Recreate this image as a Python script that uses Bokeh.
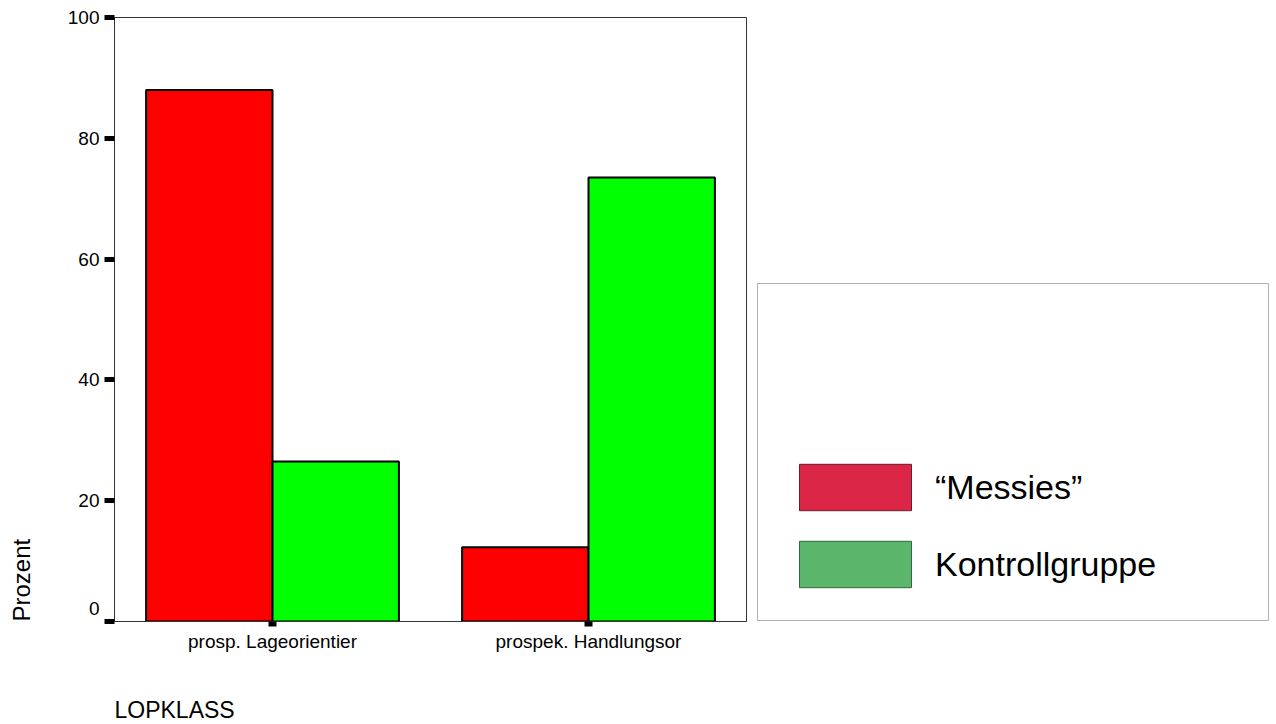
from bokeh.plotting import figure
from bokeh.layouts import row
from bokeh.models import (ColumnDataSource, FactorRange, Range1d, FixedTicker,
                          Legend, LegendItem, LinearAxis, Title)
from bokeh.transform import dodge
from bokeh.embed import file_html
from bokeh.resources import INLINE

# ---- data ----
categories = ["prosp. Lageorientier", "prospek. Handlungsor"]
series_names = ["\u201cMessies\u201d", "Kontrollgruppe"]
messies = [88.0, 12.3]
kontroll = [26.5, 73.5]
y_ticks = [0, 20, 40, 60, 80, 100]
y_tick_labels = ["0", "20", "40", "60", "80", "100"]
x_title = "LOPKLASS"
y_title = "Prozent"

FONT = "Liberation Sans"

src = ColumnDataSource(data=dict(cat=categories, messies=messies, kontroll=kontroll))

# ---------------- main chart ----------------
p = figure(width=747, height=724, output_backend="svg", toolbar_location=None,
           x_range=FactorRange(factors=categories, range_padding=0),
           y_range=Range1d(0, 100),
           min_border_left=114, min_border_right=1, min_border_top=17, min_border_bottom=103)

p.xgrid.visible = False
p.ygrid.visible = False
p.background_fill_color = "white"
p.border_fill_color = "white"
p.outline_line_color = "#333333"
p.outline_line_width = 1

p.vbar(x=dodge("cat", -0.2, range=p.x_range), top="messies", width=0.4, source=src,
       fill_color="#FF0000", line_color="black", line_width=2)
p.vbar(x=dodge("cat", 0.2, range=p.x_range), top="kontroll", width=0.4, source=src,
       fill_color="#00FF00", line_color="black", line_width=2)

# y axis: ticks only
ya = p.yaxis[0]
ya.ticker = FixedTicker(ticks=y_ticks)
ya.major_label_overrides = {t: "" for t in y_ticks}
ya.major_tick_out = 10
ya.major_tick_in = 0
ya.major_tick_line_width = 5
ya.major_tick_line_color = "black"
ya.minor_tick_line_color = None
ya.axis_line_color = "#333333"
ya.major_label_standoff = 0

# y axis labels (the "0" sits a little above its tick, as in the reference)
label_pos = [2.2] + y_ticks[1:]
yl = LinearAxis(ticker=FixedTicker(ticks=label_pos),
                major_label_overrides={pos: lab for pos, lab in zip(label_pos, y_tick_labels)},
                major_tick_out=0, major_tick_in=0, major_tick_line_color=None,
                minor_tick_line_color=None, axis_line_color=None,
                major_label_standoff=5, major_label_text_font=FONT,
                major_label_text_font_size="19px", major_label_text_color="black",
                axis_label=" ", axis_label_text_font_size="10px", axis_label_standoff=16)
p.add_layout(yl, "left")

# x axis
xa = p.xaxis[0]
xa.major_tick_out = 5
xa.major_tick_in = 0
xa.major_tick_line_width = 8
xa.major_tick_line_color = "black"
xa.axis_line_color = "#333333"
xa.major_label_standoff = 4
xa.major_label_text_font = FONT
xa.major_label_text_font_size = "19px"
xa.major_label_text_color = "black"
xa.axis_label = " "
xa.axis_label_text_font_size = "10px"
xa.axis_label_standoff = 26

# axis titles
p.add_layout(Title(text=y_title, align="left", vertical_align="bottom", text_font=FONT,
                   text_font_size="24px", text_font_style="normal", text_color="black",
                   standoff=0), "left")
p.add_layout(Title(text=x_title, align="left", vertical_align="bottom", text_font=FONT,
                   text_font_size="23px", text_font_style="normal", text_color="black",
                   standoff=0), "below")

# ---------------- legend panel ----------------
p2 = figure(width=529, height=724, output_backend="svg", toolbar_location=None,
            x_range=FactorRange(factors=categories, range_padding=0),
            y_range=Range1d(0, 100), x_axis_location=None, y_axis_location=None,
            min_border_left=0, min_border_right=0, min_border_top=0, min_border_bottom=0)
p2.xgrid.visible = False
p2.ygrid.visible = False
p2.outline_line_color = None
p2.background_fill_color = "white"
p2.border_fill_color = "white"

r_leg1 = p2.vbar(x=dodge("cat", -0.2, range=p2.x_range), top="messies", width=0.4, source=src,
                 fill_color="#DC2647", line_color="#6a1a28", line_width=1, visible=False)
r_leg2 = p2.vbar(x=dodge("cat", 0.2, range=p2.x_range), top="kontroll", width=0.4, source=src,
                 fill_color="#5BB56B", line_color="#2f6a3a", line_width=1, visible=False)

legend = Legend(items=[LegendItem(label=series_names[0], renderers=[r_leg1]),
                       LegendItem(label=series_names[1], renderers=[r_leg2])],
                location=(10, 0),
                glyph_width=140, glyph_height=58, label_height=58,
                label_width=306, label_standoff=10, spacing=19, padding=27,
                margin=0, click_policy="none",
                inactive_fill_alpha=0.0,
                label_text_font=FONT, label_text_font_size="34px",
                label_text_color="black",
                title=" ", title_text_font_size="12px", title_standoff=133,
                border_line_color="#666666", border_line_width=1,
                background_fill_color="white", background_fill_alpha=1.0)
p2.add_layout(legend, "center")

layout = row(p, p2, spacing=0)
open("out.html", "w").write(file_html(layout, INLINE))
